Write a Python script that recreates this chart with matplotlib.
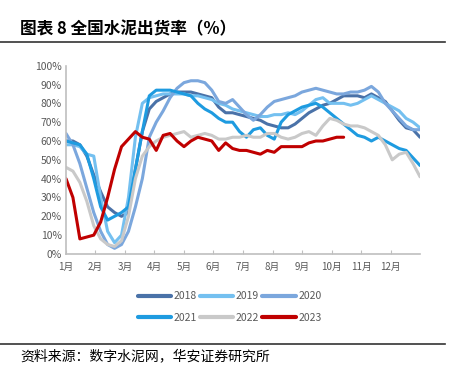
import matplotlib
matplotlib.use("Agg")
import matplotlib.pyplot as plt
import numpy as np

plt.rcParams['font.family'] = ['Noto Sans CJK SC', 'DejaVu Sans']

# weekly cement shipment rate (%), one value per week
months = ['1月', '2月', '3月', '4月', '5月', '6月', '7月', '8月', '9月', '10月', '11月', '12月']
years = ['2018', '2019', '2020', '2021', '2022', '2023']

r2018 = [60, 60, 58, 52, 42, 33, 25, 22, 20, 22, 45, 65, 77, 81, 83, 85, 86, 86, 86, 85,
         84, 83, 78, 75, 75, 74, 73, 72, 71, 69, 68, 67, 67, 69, 72, 75, 77, 79, 80, 82,
         84, 84, 84, 83, 85, 83, 81, 76, 71, 67, 66, 62]
r2019 = [58, 58, 57, 53, 52, 30, 12, 6, 10, 30, 62, 80, 83, 84, 85, 85, 85, 85, 84, 84,
         83, 82, 80, 79, 77, 76, 75, 74, 73, 73, 74, 74, 75, 74, 76, 79, 82, 83, 80, 80,
         80, 79, 80, 82, 84, 82, 80, 78, 76, 72, 70, 67]
r2020 = [64, 58, 48, 35, 22, 12, 5, 3, 5, 12, 25, 40, 62, 70, 76, 83, 88, 91, 92, 92,
         91, 87, 81, 80, 82, 78, 74, 71, 74, 78, 81, 82, 83, 84, 86, 87, 88, 87, 86, 85,
         85, 86, 86, 87, 89, 86, 80, 76, 72, 68, 66, 66]
r2021 = [60, 59, 58, 53, 40, 25, 18, 20, 22, 25, 45, 65, 84, 87, 87, 87, 86, 85, 84, 80,
         77, 75, 72, 70, 70, 65, 62, 66, 67, 63, 61, 70, 74, 76, 78, 79, 80, 78, 75, 72,
         69, 66, 63, 62, 60, 62, 60, 58, 56, 55, 51, 47]
r2022 = [46, 44, 38, 28, 15, 8, 5, 4, 7, 20, 40, 52, 57, 60, 62, 63, 64, 65, 62, 63,
         64, 63, 61, 61, 62, 62, 63, 62, 62, 64, 64, 62, 61, 62, 64, 65, 63, 68, 72, 71,
         69, 68, 68, 67, 65, 63, 58, 50, 53, 54, 48, 41]
r2023 = [40, 30, 8, 9, 10, 17, 30, 45, 57, 61, 65, 62, 61, 55, 63, 64, 60, 57, 60, 62,
         61, 60, 55, 59, 56, 55, 55, 54, 53, 55, 54, 57, 57, 57, 57, 59, 60, 60, 61, 62,
         62]

series = [r2018, r2019, r2020, r2021, r2022, r2023]
colors = ['#4a72a8', '#74c0f0', '#7ba7dd', '#1e9be0', '#c9c9c9', '#c00000']

fig = plt.figure(figsize=(4.51, 3.67), dpi=100)
ax = fig.add_axes([0.1463, 0.308, 0.785, 0.513])

step = 12 / 51
lines = []
for name, vals, c in zip(years, series, colors):
    x = np.arange(len(vals)) * step
    ln, = ax.plot(x, np.array(vals) / 100, color=c, lw=2.2, label=name,
                  solid_capstyle='round', solid_joinstyle='round')
    lines.append(ln)

ax.set_xlim(0, 12)
ax.set_ylim(0, 1.0)
ax.set_yticks(np.arange(0, 1.01, 0.1))
ax.set_yticklabels([f'{int(round(v * 100))}%' for v in np.arange(0, 1.01, 0.1)])
ax.set_xticks(range(12))
ax.set_xticklabels(months)
ax.tick_params(axis='y', length=0, labelsize=7.5, labelcolor='#595959', pad=3)
ax.tick_params(axis='x', direction='in', length=3, color='#bfbfbf', labelsize=7,
               labelcolor='#595959', pad=6)
for s in ['top', 'right']:
    ax.spines[s].set_visible(False)
for s in ['left', 'bottom']:
    ax.spines[s].set_color('#bfbfbf')
    ax.spines[s].set_linewidth(1.2)

# legend fills column by column, so reorder to get rows 2018-2020 / 2021-2023
order = [0, 3, 1, 4, 2, 5]
leg = fig.legend([lines[i] for i in order], [years[i] for i in order],
                 loc='center', bbox_to_anchor=(0.509, 0.163), ncol=3, frameon=False,
                 fontsize=7.5, handlelength=3.2, handletextpad=0.25, columnspacing=0.3,
                 labelcolor='#595959', labelspacing=1.1)
for line in leg.get_lines():
    line.set_linewidth(3)

fig.text(0.044, 0.921, '图表 8 全国水泥出货率（%）', fontsize=12, fontweight='bold',
         va='center', ha='left')
fig.add_artist(plt.Line2D([0, 0.987], [0.886, 0.886], color='#333333', lw=1.2))
fig.add_artist(plt.Line2D([0, 0.987], [0.063, 0.063], color='#333333', lw=1.2))
fig.text(0.044, 0.03, '资料来源：数字水泥网，华安证券研究所', fontsize=10,
         va='center', ha='left')

fig.savefig('out.png', dpi=100)
